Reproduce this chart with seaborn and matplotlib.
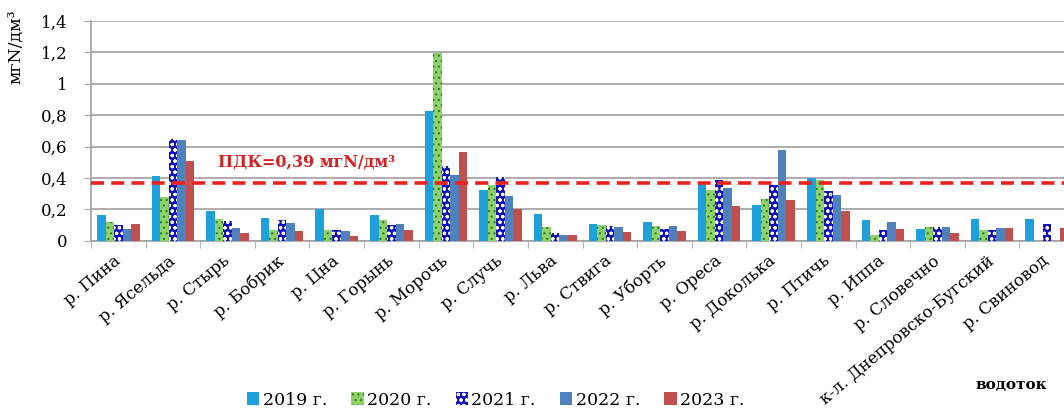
import numpy as np
import pandas as pd
import seaborn as sns
import matplotlib.pyplot as plt
from matplotlib.patches import Patch

# Data (мгN/дм³)
rivers = ['р. Пина', 'р. Ясельда', 'р. Стырь', 'р. Бобрик', 'р. Цна', 'р. Горынь',
          'р. Морочь', 'р. Случь', 'р. Льва', 'р. Ствига', 'р. Уборть', 'р. Ореса',
          'р. Доколька', 'р. Птичь', 'р. Иппа', 'р. Словечно',
          'к-л. Днепровско-Бугский', 'р. Свиновод']
years = ['2019 г.', '2020 г.', '2021 г.', '2022 г.', '2023 г.']

v2019 = [0.163, 0.41, 0.19, 0.146, 0.20, 0.163, 0.827, 0.327, 0.17, 0.11, 0.12, 0.369,
         0.227, 0.40, 0.131, 0.078, 0.138, 0.138]
v2020 = [0.12, 0.28, 0.14, 0.068, 0.07, 0.13, 1.196, 0.354, 0.089, 0.10, 0.095, 0.322,
         0.265, 0.386, 0.04, 0.089, 0.068, np.nan]
v2021 = [0.10, 0.65, 0.127, 0.136, 0.07, 0.104, 0.475, 0.407, 0.053, 0.095, 0.078, 0.386,
         0.354, 0.316, 0.068, 0.089, 0.072, 0.11]
v2022 = [0.078, 0.645, 0.083, 0.117, 0.064, 0.11, 0.42, 0.284, 0.036, 0.089, 0.095, 0.337,
         0.581, 0.29, 0.12, 0.089, 0.08, np.nan]
v2023 = [0.11, 0.507, 0.053, 0.06, 0.034, 0.068, 0.566, 0.206, 0.036, 0.057, 0.06, 0.223,
         0.263, 0.19, 0.078, 0.053, 0.08, 0.083]

pdk = 0.37
ytick_labels = ['0', '0,2', '0,4', '0,6', '0,8', '1', '1,2', '1,4']

colors = ['#1ea0da', '#8fd26a', '#1212b8', '#4f81bd', '#c0504d']
hatches = ['', '...', 'ooo', '', '']
hatch_colors = ['#1ea0da', '#2f7a1f', '#ffffff', '#4f81bd', '#c0504d']

df = pd.DataFrame({
    'river': rivers * 5,
    'year': np.repeat(years, len(rivers)),
    'value': v2019 + v2020 + v2021 + v2022 + v2023,
})

plt.rcParams['font.family'] = ['DejaVu Serif']
plt.rcParams['hatch.linewidth'] = 0.8

fig = plt.figure(figsize=(10.64, 4.09), dpi=100)
ax = fig.add_axes([0.0855, 0.411, 0.924, 0.538])

sns.barplot(data=df, x='river', y='value', hue='year', hue_order=years,
            palette=colors, saturation=1, width=0.78, errorbar=None,
            legend=False, ax=ax, zorder=3)

for cont, h, hc in zip(ax.containers, hatches, hatch_colors):
    for bar in cont:
        bar.set_hatch(h)
        bar.set_edgecolor(hc)
        bar.set_linewidth(0)

ax.axhline(pdk, color='#e8221c', lw=2.6, dashes=(3.6, 2), zorder=5)

ax.set_ylim(0, 1.4)
ax.set_xlim(-0.5, len(rivers) - 0.5)
ax.set_yticks(np.arange(0, 1.41, 0.2))
ax.set_yticklabels(ytick_labels)
ax.set_axisbelow(True)
ax.yaxis.grid(True, color='#a6a6a6', lw=1.3, zorder=0)
ax.set_xlabel('')
ax.set_ylabel('')

for s in ['top', 'right']:
    ax.spines[s].set_visible(False)
for s in ['left', 'bottom']:
    ax.spines[s].set_color('#a6a6a6')
    ax.spines[s].set_linewidth(1.3)

ax.tick_params(axis='y', length=5, color='#a6a6a6', labelsize=12, pad=12)
ax.set_xticks(np.arange(-0.5, len(rivers), 1), minor=True)
ax.tick_params(axis='x', which='minor', length=5, color='#a6a6a6')
ax.tick_params(axis='x', which='major', length=0, labelsize=12, pad=13, labelrotation=40)
for lbl in ax.get_xticklabels():
    lbl.set_ha('right')
    lbl.set_va('center')
    lbl.set_rotation_mode('anchor')

fig.text(218 / 1064, 1 - 162 / 409, 'ПДК=0,39 мгN/дм³', color='#d42020',
         fontsize=11.5, fontweight='bold', va='center', ha='left')
fig.text(0.015, 0.885, 'мгN/дм³', rotation=90, fontsize=12.5, ha='center', va='center')
fig.text(1011 / 1064, 1 - 385 / 409, 'водоток', fontsize=11, fontweight='bold',
         ha='center', va='center')

handles = [Patch(facecolor=c, edgecolor=hc, hatch=h, linewidth=0)
           for c, h, hc in zip(colors, hatches, hatch_colors)]
fig.legend(handles, years, loc='center', bbox_to_anchor=(0.466, 0.022), ncol=5,
           frameon=False, handlelength=0.7, handleheight=0.7, handletextpad=0.2,
           columnspacing=1.4, fontsize=12.5)

fig.savefig('out.png', dpi=100)
